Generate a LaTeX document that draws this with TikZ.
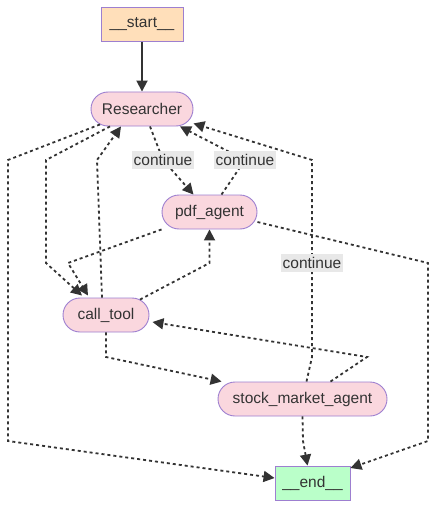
\documentclass[tikz,border=0pt]{standalone}
\usepackage{fontspec}
\setmainfont{Liberation Sans}
\usetikzlibrary{arrows.meta}
\definecolor{nodefill}{HTML}{FAD7DE}
\definecolor{startfill}{HTML}{FFDFBA}
\definecolor{endfill}{HTML}{BAFFC9}
\definecolor{nodeline}{HTML}{9D7FD0}
\definecolor{linegray}{HTML}{333333}
\definecolor{labelfill}{HTML}{E8E8E8}
\begin{document}
\begin{tikzpicture}
[x=1pt,y=-1pt,
  nodedecorate/.style={shape=rectangle,draw=nodeline,line width=0.9pt,text=linegray,%
    minimum height=34pt,inner sep=0pt,font=\fontsize{15.5}{18}\selectfont},
  linedecorate/.style={draw=linegray,line width=1.8pt,dash pattern=on 3pt off 3pt,%
    -{Triangle[length=11pt,width=11pt]}},
  labeldecorate/.style={fill=labelfill,text=linegray,inner xsep=1.5pt,inner ysep=0pt,%
    minimum height=18pt,font=\fontsize{15.5}{18}\selectfont}]
\useasboundingbox (0,0) rectangle (437,508);
%% nodes or vertices
\foreach \nodename/\x/\y/\w/\r/\shade/\nodetext in {
  start/142/24.5/82/0/startfill/\_\_start\_\_,
  researcher/142/109/102/17/nodefill/Researcher,
  pdfagent/209.5/212/95/17/nodefill/pdf\_agent,
  calltool/106/315/86/17/nodefill/call\_tool,
  stockagent/302.5/399/169/17/nodefill/stock\_market\_agent,
  end/312.5/483/75/0/endfill/\_\_end\_\_}
{
  \node (\nodename) at (\x,\y) [nodedecorate,minimum width=\w pt,
    rounded corners=\r pt,fill=\shade] {\nodetext};
}
%% bend points
\foreach \cname/\x/\y in {
  ra/8/160, rb/8/441, rc/46/160, rd/46/263, ce/97/160,
  rf/163/160, pg/245/160, sh/312/357, si/312/160, sl/312/263,
  pj/68/263, ck/209.5/263, pl/428/263, pm/428/441,
  cn/106/357, so/367/357, sp/303/441}
  \coordinate (\cname) at (\x,\y);
%% edges or lines
\draw[linedecorate,solid] (start) -- (researcher);
\draw[linedecorate] ([xshift=-42pt,yshift=2pt]researcher.south) -- (ra) -- (rb) -- ([yshift=5pt]end.west);
\draw[linedecorate] ([xshift=-32pt]researcher.south) -- (rc) -- (rd) -- ([xshift=-24pt,yshift=2pt]calltool.north);
\draw[linedecorate] ([xshift=-4pt]calltool.north) -- (ce) -- ([xshift=-21pt]researcher.south);
\draw[linedecorate] ([xshift=8pt]researcher.south) -- (rf) -- ([xshift=-16pt]pdfagent.north);
\draw[linedecorate] ([xshift=12pt]pdfagent.north) -- (pg) -- ([xshift=38pt]researcher.south);
\draw[linedecorate] ([xshift=4pt]stockagent.north) -- (sh) -- (si) -- ([yshift=3pt]researcher.south east);
\draw[linedecorate] (pdfagent.south west) -- (pj) -- ([xshift=-18pt,yshift=2pt]calltool.north);
\draw[linedecorate] ([xshift=34pt,yshift=-2pt]calltool.north) -- (ck) -- (pdfagent.south);
\draw[linedecorate] ([yshift=-10pt]pdfagent.east) -- (pl) -- (pm) -- ([yshift=15pt]end.east);
\draw[linedecorate] (calltool.south) -- (cn) -- ([xshift=4pt]stockagent.north west);
\draw[linedecorate] ([xshift=28pt]stockagent.north) -- (so) -- ([xshift=3pt,yshift=-7pt]calltool.east);
\draw[linedecorate] (stockagent.south) -- (sp) -- ([xshift=-5pt]end.north);
%% edge labels
\foreach \labname/\cname in {labone/rf, labtwo/pg, labthree/sl}
  \node (\labname) at (\cname) [labeldecorate] {continue};
\end{tikzpicture}
\end{document}
